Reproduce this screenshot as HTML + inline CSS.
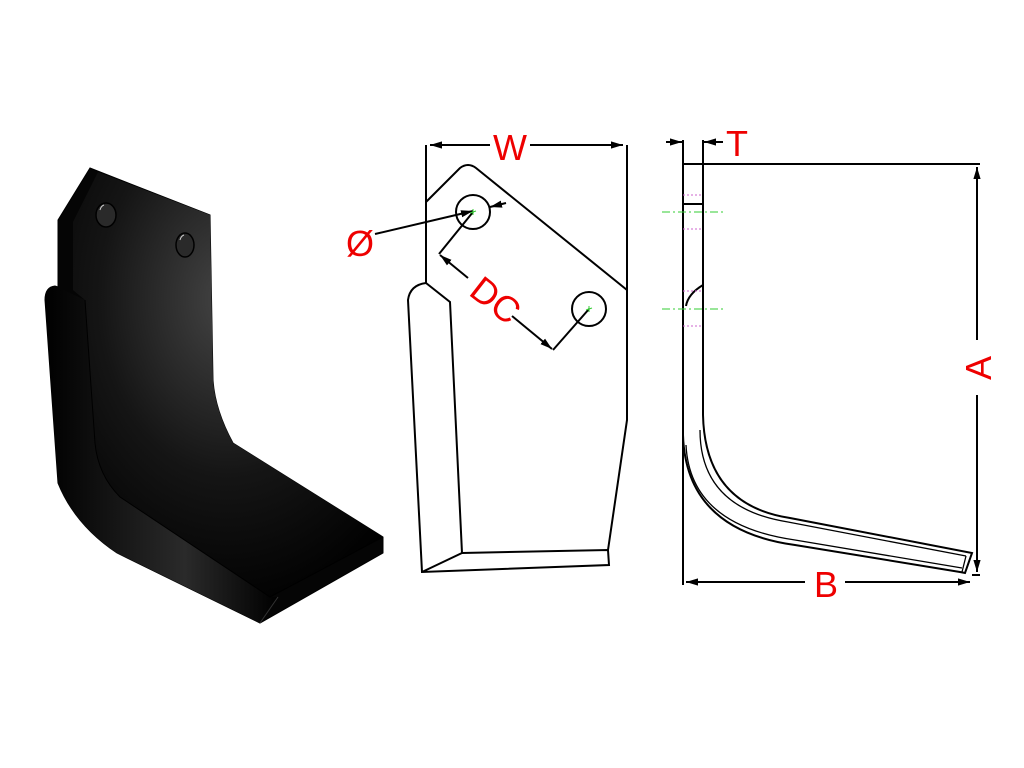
<!DOCTYPE html>
<html><head><style>html,body{margin:0;padding:0;background:#fff;}svg{display:block}</style></head>
<body>
<svg width="1024" height="768" viewBox="0 0 1024 768" xmlns="http://www.w3.org/2000/svg">
<defs>
<radialGradient id="g1" cx="0.5" cy="0.3" r="0.75">
<stop offset="0" stop-color="#444"/><stop offset="0.55" stop-color="#151515"/><stop offset="1" stop-color="#000"/>
</radialGradient>
<linearGradient id="g2" x1="0" y1="0" x2="1" y2="0">
<stop offset="0" stop-color="#000"/><stop offset="0.6" stop-color="#2a2a2a"/><stop offset="1" stop-color="#000"/>
</linearGradient>
<marker id="ar" viewBox="0 0 10 10" refX="10" refY="5" markerWidth="6" markerHeight="6" orient="auto-start-reverse"><path d="M0,2 L10,5 L0,8 z" fill="#000"/></marker>
</defs>

<!-- 3D blade -->
<path d="M90,168 L210,215 L213,380 Q215,410 233,443 L383,537 L383,553 L260,623 L117,553 Q75,525 58,483 L45,300 Q45,287 55,286 L58,287 L58,220 Z" fill="#050505" stroke="#000" stroke-width="1"/>
<path d="M98,172 L210,215 L213,380 Q215,410 233,443 L383,537 L270,597 L120,497 Q98,475 95,443 L85,300 L73,290 L73,222 Z" fill="url(#g1)"/>
<path d="M45,300 Q45,287 55,286 L85,300 L95,443 Q98,475 120,497 L270,597 L278,597 L260,623 L117,553 Q75,525 58,483 Z" fill="url(#g2)"/>
<path d="M85,300 L95,443 Q98,475 120,497 L270,597 L383,537" fill="none" stroke="#000" stroke-width="1"/>
<path d="M278,597 L260,623" stroke="#333" stroke-width="1"/>
<ellipse cx="106" cy="215" rx="10" ry="12" fill="#2a2a2a" stroke="#000" stroke-width="1.5"/>
<ellipse cx="185" cy="245" rx="9" ry="12" fill="#2a2a2a" stroke="#000" stroke-width="1.5"/>
<path d="M100,210 Q101,206 104,205" stroke="#ccc" fill="none"/>
<path d="M180,240 Q181,236 184,235" stroke="#ccc" fill="none"/>

<!-- Front view -->
<g fill="none" stroke="#000" stroke-width="2">
<path d="M426,145 L426,283"/>
<path d="M627,145 L627,420 L608,550"/>
<path d="M426,202 L460,168 Q468,162 476,168 L627,290"/>
<path d="M426,283 L450,302 L462,553"/>
<path d="M426,283 Q410,285 408,300 L422,572 L609,565 L608,550 L462,553 L422,572"/>
<circle cx="473" cy="212" r="17"/>
<circle cx="589" cy="309" r="17"/>
<path d="M473,212 L439,254"/>
<path d="M553,350 L589,309"/>
</g>
<line x1="468" y1="278" x2="440" y2="255" stroke="#000" stroke-width="2" marker-end="url(#ar)"/>
<line x1="512" y1="316" x2="552" y2="349" stroke="#000" stroke-width="2" marker-end="url(#ar)"/>
<line x1="375" y1="234" x2="473" y2="211" stroke="#000" stroke-width="2" marker-end="url(#ar)"/>
<line x1="506" y1="203" x2="490" y2="207" stroke="#000" stroke-width="2" marker-end="url(#ar)"/>
<line x1="430" y1="145" x2="490" y2="145" stroke="#000" stroke-width="2" marker-start="url(#ar)"/>
<line x1="530" y1="145" x2="623" y2="145" stroke="#000" stroke-width="2" marker-end="url(#ar)"/>
<path d="M470,213 l6,-2 M473,209 l0,6" stroke="#3c3" stroke-width="1"/>
<path d="M586,310 l6,-2 M589,306 l0,6" stroke="#3c3" stroke-width="1"/>
<text x="510" y="160" font-family="Liberation Sans, sans-serif" font-size="36" fill="#e00" text-anchor="middle">W</text>
<text x="360" y="256" font-family="Liberation Sans, sans-serif" font-size="36" fill="#e00" text-anchor="middle">Ø</text>
<text x="0" y="0" font-family="Liberation Sans, sans-serif" font-size="36" fill="#e00" text-anchor="middle" transform="translate(488,310) rotate(38)">DC</text>

<!-- Side view -->
<g fill="none" stroke="#000" stroke-width="2">
<path d="M683,140 L683,585"/>
<path d="M703,140 L703,415"/>
<path d="M683,164 L980,164"/>
<path d="M683,204 L703,204"/>
<path d="M703,415 Q705,505 790,518 L972,553 L965,573 L960,572 L795,545 Q686,530 683,435"/>
<path d="M700,430 Q700,508 788,522 L966,556" stroke-width="1.3"/>
<path d="M686,445 Q690,525 795,540 L962,568" stroke-width="1.3"/>
<path d="M686,306 Q688,294 703,285"/>
<path d="M966,556 L962,572" stroke-width="1.3"/>
<path d="M972,575 L980,575"/>
</g>
<g stroke="#3c3" stroke-width="1" stroke-dasharray="8,3,2,3"><line x1="662" y1="212" x2="724" y2="212"/><line x1="662" y1="309" x2="724" y2="309"/></g>
<g stroke="#c6c" stroke-width="1" stroke-dasharray="2,2"><line x1="683" y1="195" x2="703" y2="195"/><line x1="683" y1="229" x2="703" y2="229"/><line x1="683" y1="291" x2="703" y2="291"/><line x1="683" y1="326" x2="703" y2="326"/></g>
<line x1="666" y1="142" x2="682" y2="142" stroke="#000" stroke-width="2" marker-end="url(#ar)"/>
<line x1="723" y1="142" x2="704" y2="142" stroke="#000" stroke-width="2" marker-end="url(#ar)"/>
<line x1="977" y1="340" x2="977" y2="167" stroke="#000" stroke-width="2" marker-end="url(#ar)"/>
<line x1="977" y1="395" x2="977" y2="572" stroke="#000" stroke-width="2" marker-end="url(#ar)"/>
<line x1="805" y1="582" x2="686" y2="582" stroke="#000" stroke-width="2" marker-end="url(#ar)"/>
<line x1="845" y1="582" x2="970" y2="582" stroke="#000" stroke-width="2" marker-end="url(#ar)"/>
<text x="737" y="156" font-family="Liberation Sans, sans-serif" font-size="36" fill="#e00" text-anchor="middle">T</text>
<text x="826" y="597" font-family="Liberation Sans, sans-serif" font-size="36" fill="#e00" text-anchor="middle">B</text>
<text x="0" y="0" font-family="Liberation Sans, sans-serif" font-size="36" fill="#e00" text-anchor="middle" transform="translate(991,368) rotate(-90)">A</text>
</svg>
</body></html>
